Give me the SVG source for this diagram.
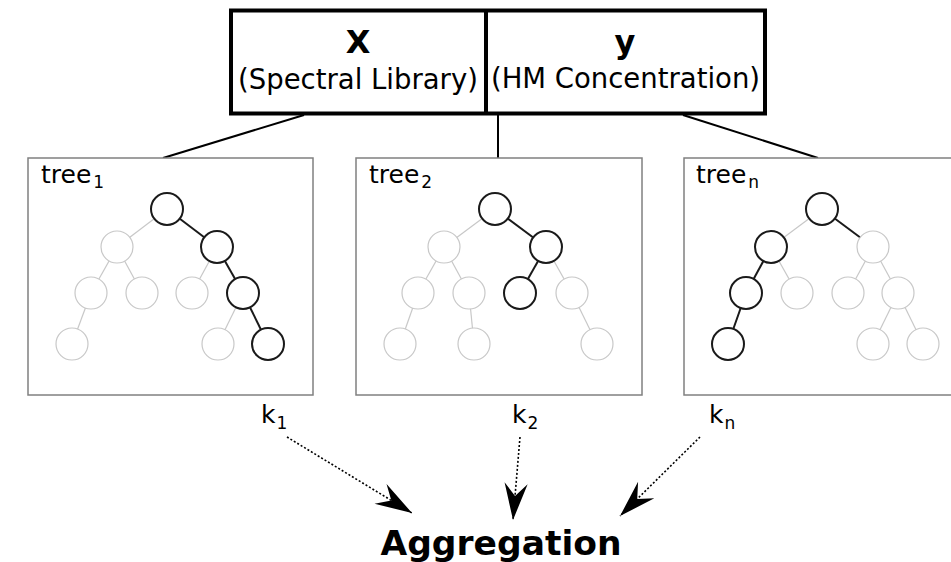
<svg xmlns="http://www.w3.org/2000/svg" width="951" height="562" viewBox="0 0 951 562">
<style>
text{font-family:"DejaVu Sans","Liberation Sans",sans-serif;fill:#000}
.hdr{font-weight:bold;font-size:32px;text-anchor:middle}
.sub{font-size:27.5px;text-anchor:middle}
.lbl{font-size:25px}
.sm{font-size:17px}
.agg{font-weight:bold;font-size:34.5px;text-anchor:middle}
.frame{fill:#fff;stroke:#808080;stroke-width:1.5}
.top{fill:#fff;stroke:#000;stroke-width:4}
.conn{stroke:#000;stroke-width:2;fill:none}
.ge{stroke:#c8c8c8;stroke-width:1.2}
.de{stroke:#1a1a1a;stroke-width:2}
.gn{fill:#fff;stroke:#c8c8c8;stroke-width:1.2}
.dn{fill:#fff;stroke:#1a1a1a;stroke-width:2}
.dot{stroke:#000;stroke-width:1.6;stroke-dasharray:2 2;fill:none;marker-end:url(#ah)}
</style>
<defs>
<marker id="ah" markerUnits="userSpaceOnUse" markerWidth="40" markerHeight="30" viewBox="-36 -13 38 26" refX="0" refY="0" orient="auto">
<path d="M0,0 L-35,-11 L-23,0 L-35,11 Z" fill="#000"/>
</marker>
</defs>
<rect width="951" height="562" fill="#fff"/>

<g id="connectors">
<line class="conn" x1="304" y1="115" x2="163" y2="158"/>
<line class="conn" x1="498" y1="115" x2="498" y2="158"/>
<line class="conn" x1="683" y1="115" x2="818" y2="158"/>
<line class="dot" x1="287" y1="437" x2="412" y2="513"/>
<line class="dot" x1="520" y1="437" x2="513" y2="520"/>
<line class="dot" x1="700" y1="437" x2="620" y2="516"/>
</g>

<g id="input">
<rect class="top" x="231" y="10.5" width="534" height="103"/>
<line class="top" x1="486" y1="10.5" x2="486" y2="113.5"/>
<text class="hdr" x="358" y="53">X</text>
<text class="sub" x="358" y="89">(Spectral Library)</text>
<text class="hdr" x="625" y="53">y</text>
<text class="sub" x="625.5" y="88">(HM Concentration)</text>
</g>

<g id="tree1">
<rect class="frame" x="28" y="158" width="285" height="237"/>
<text class="lbl" x="41" y="183">tree<tspan class="sm" dx="2" dy="5">1</tspan></text>
<line class="ge" x1="167" y1="209" x2="117" y2="247"/>
<line class="de" x1="167" y1="209" x2="217" y2="247"/>
<line class="ge" x1="117" y1="247" x2="91" y2="293"/>
<line class="ge" x1="117" y1="247" x2="142" y2="293"/>
<line class="ge" x1="217" y1="247" x2="192" y2="293"/>
<line class="de" x1="217" y1="247" x2="243" y2="293"/>
<line class="ge" x1="91" y1="293" x2="72" y2="344"/>
<line class="ge" x1="243" y1="293" x2="218" y2="344"/>
<line class="de" x1="243" y1="293" x2="268" y2="344"/>
<circle class="dn" cx="167" cy="209" r="16"/>
<circle class="gn" cx="117" cy="247" r="16"/>
<circle class="dn" cx="217" cy="247" r="16"/>
<circle class="gn" cx="91" cy="293" r="16"/>
<circle class="gn" cx="142" cy="293" r="16"/>
<circle class="gn" cx="192" cy="293" r="16"/>
<circle class="dn" cx="243" cy="293" r="16"/>
<circle class="gn" cx="72" cy="344" r="16"/>
<circle class="gn" cx="218" cy="344" r="16"/>
<circle class="dn" cx="268" cy="344" r="16"/>
</g>

<g id="tree2">
<rect class="frame" x="356" y="158" width="286" height="237"/>
<text class="lbl" x="369" y="183">tree<tspan class="sm" dx="2" dy="5">2</tspan></text>
<line class="ge" x1="495" y1="209" x2="444" y2="247"/>
<line class="de" x1="495" y1="209" x2="546" y2="247"/>
<line class="ge" x1="444" y1="247" x2="418" y2="293"/>
<line class="ge" x1="444" y1="247" x2="469" y2="293"/>
<line class="de" x1="546" y1="247" x2="520" y2="293"/>
<line class="ge" x1="546" y1="247" x2="572" y2="293"/>
<line class="ge" x1="418" y1="293" x2="400" y2="344"/>
<line class="ge" x1="469" y1="293" x2="474" y2="344"/>
<line class="ge" x1="572" y1="293" x2="597" y2="344"/>
<circle class="dn" cx="495" cy="209" r="16"/>
<circle class="gn" cx="444" cy="247" r="16"/>
<circle class="dn" cx="546" cy="247" r="16"/>
<circle class="gn" cx="418" cy="293" r="16"/>
<circle class="gn" cx="469" cy="293" r="16"/>
<circle class="dn" cx="520" cy="293" r="16"/>
<circle class="gn" cx="572" cy="293" r="16"/>
<circle class="gn" cx="400" cy="344" r="16"/>
<circle class="gn" cx="474" cy="344" r="16"/>
<circle class="gn" cx="597" cy="344" r="16"/>
</g>

<g id="treen">
<rect class="frame" x="684" y="158" width="275" height="237"/>
<text class="lbl" x="696" y="183">tree<tspan class="sm" dx="2" dy="5">n</tspan></text>
<line class="ge" x1="822" y1="209" x2="771" y2="247"/>
<line class="de" x1="822" y1="209" x2="873" y2="247"/>
<line class="de" x1="771" y1="247" x2="746" y2="293"/>
<line class="ge" x1="771" y1="247" x2="797" y2="293"/>
<line class="ge" x1="873" y1="247" x2="848" y2="293"/>
<line class="ge" x1="873" y1="247" x2="898" y2="293"/>
<line class="de" x1="746" y1="293" x2="728" y2="344"/>
<line class="ge" x1="898" y1="293" x2="873" y2="344"/>
<line class="ge" x1="898" y1="293" x2="923" y2="344"/>
<circle class="dn" cx="822" cy="209" r="16"/>
<circle class="dn" cx="771" cy="247" r="16"/>
<circle class="gn" cx="873" cy="247" r="16"/>
<circle class="dn" cx="746" cy="293" r="16"/>
<circle class="gn" cx="797" cy="293" r="16"/>
<circle class="gn" cx="848" cy="293" r="16"/>
<circle class="gn" cx="898" cy="293" r="16"/>
<circle class="dn" cx="728" cy="344" r="16"/>
<circle class="gn" cx="873" cy="344" r="16"/>
<circle class="gn" cx="923" cy="344" r="16"/>
</g>

<g id="k1"><text class="lbl" x="261" y="423">k<tspan class="sm" dx="1" dy="6">1</tspan></text></g>
<g id="k2"><text class="lbl" x="512" y="423">k<tspan class="sm" dx="1" dy="6">2</tspan></text></g>
<g id="kn"><text class="lbl" x="709" y="423">k<tspan class="sm" dx="1" dy="6">n</tspan></text></g>

<g id="aggregation"><text class="agg" x="501" y="555">Aggregation</text></g>
</svg>
